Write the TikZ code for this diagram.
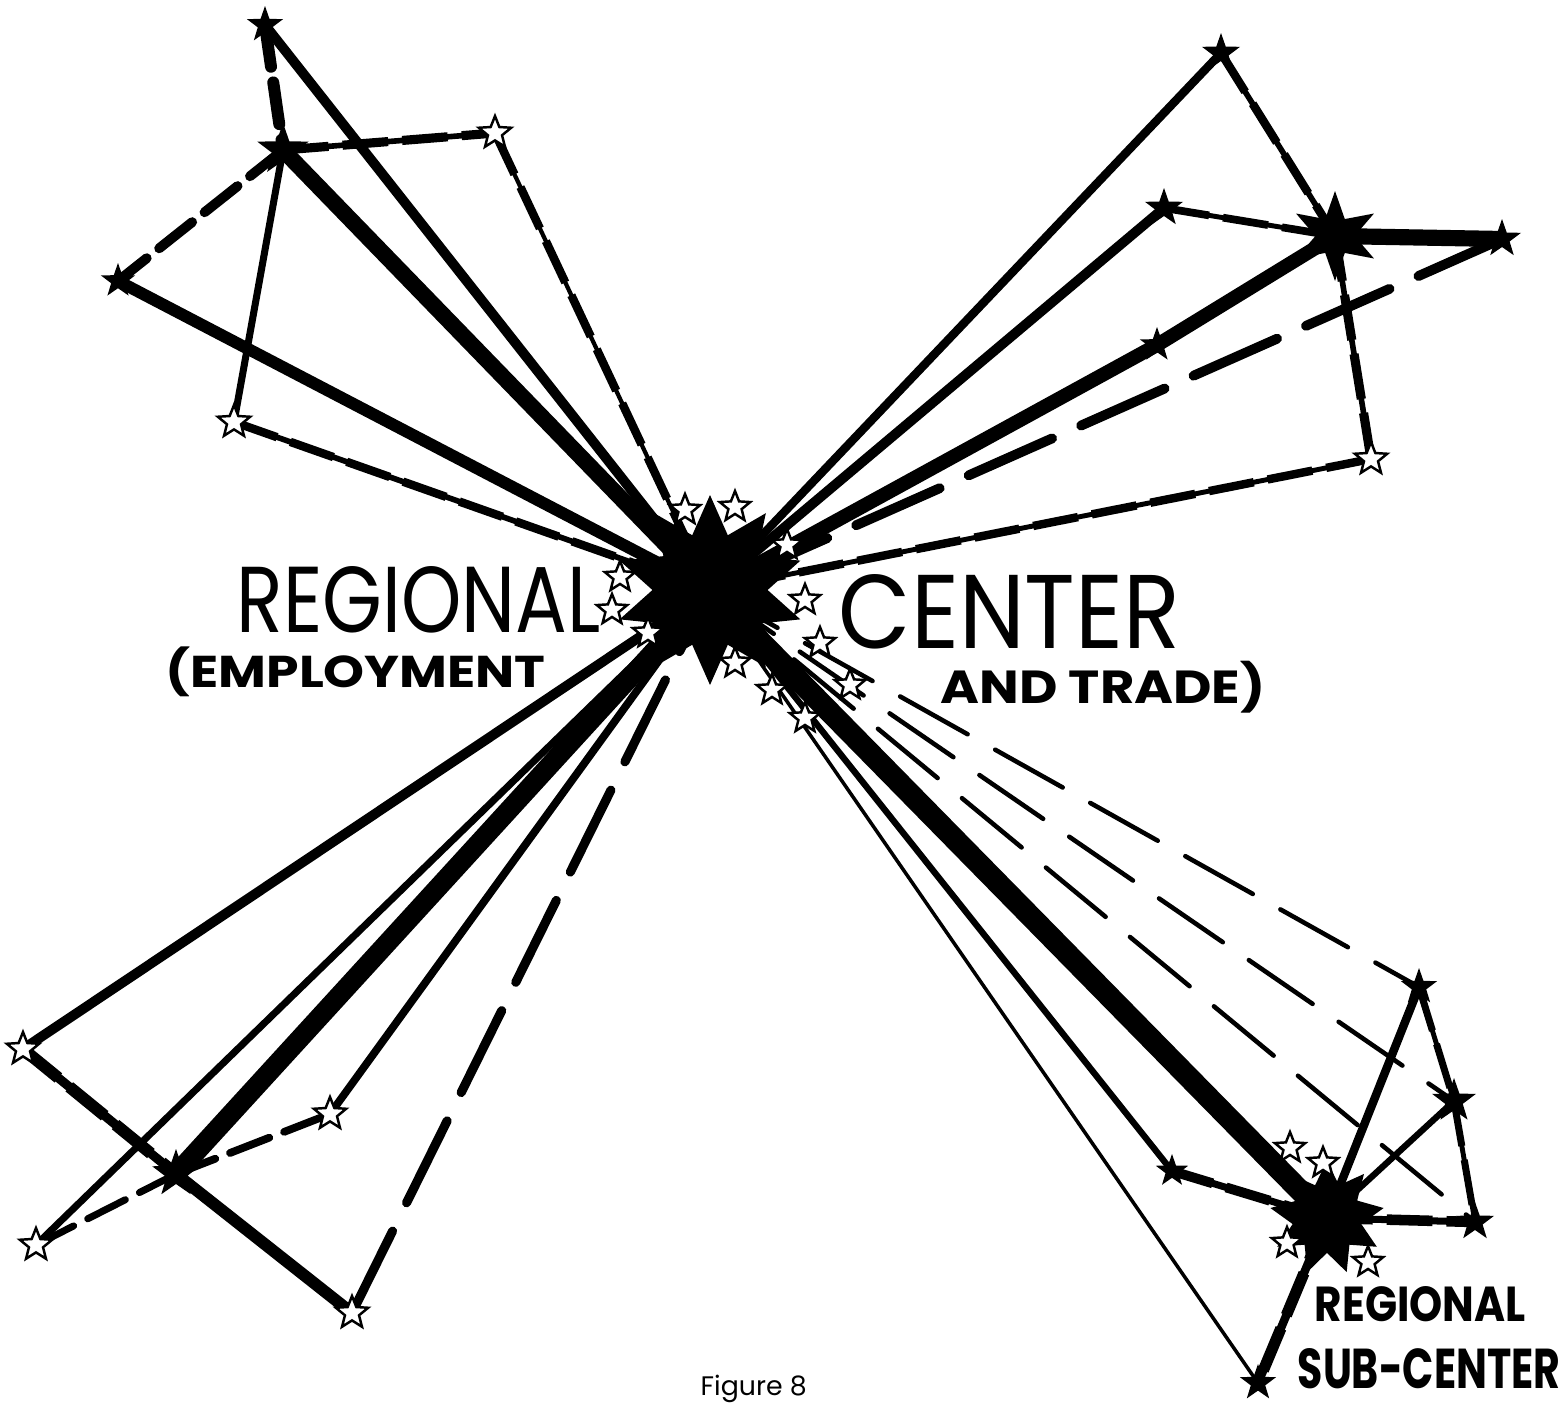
\documentclass[tikz,border=0pt]{standalone}
\usepackage{fontspec}
\setmainfont{Poppins}
\usepackage{graphicx}
\usetikzlibrary{shapes.geometric}
\pgfdeclarelayer{back}
\pgfdeclarelayer{links}
\pgfsetlayers{back,links,main}
\tikzset{
  hub/.style={star, star points=10, star point ratio=1.65, fill=black, inner sep=0pt, minimum size=19mm},
  bstar/.style={star, star points=5, star point ratio=2.5, fill=black, inner sep=0pt, minimum size=#1},
  bstar/.default=3.8mm,
  wstar/.style={star, star points=5, star point ratio=2.3, draw=black, fill=white, line width=0.7pt, inner sep=0pt, minimum size=3.4mm},
  link/.style={line width=#1},
  dashlink/.style={line width=#1, line cap=round, dash pattern=on 12pt off 4.5pt},
  longdash/.style={line width=#1, line cap=round, dash pattern=on 26pt off 9pt},
  mixlink/.style 2 args={line width=#1, dash pattern=on 13pt off 4pt, preaction={draw, solid, line width=#2}},
  lettering/.style={inner sep=0pt, anchor=south west}
}
\begin{document}
\begin{tikzpicture}[x=0.1mm, y=-0.1mm]
  \useasboundingbox (0,0) rectangle (1560,1404);
  \begin{pgfonlayer}{back}
    \fill[white] (0,0) rectangle (1560,1404);
  \end{pgfonlayer}
  \node[hub] (hub) at (710,590) {};
  \node[hub, star points=9, minimum size=11.5mm] (sub) at (1327,1218) {};
  \node[bstar] (tl1) at (265,25) {};
  \node[bstar=5.4mm] (tl2) at (283,150) {};
  \node[wstar] (tl3) at (495,133) {};
  \node[bstar=3.6mm] (tl4) at (118,281) {};
  \node[wstar] (tl5) at (234,422) {};
  \node[bstar=4mm] (tr1) at (1221,53) {};
  \node[bstar=4mm] (tr2) at (1164,208) {};
  \node[star, star points=6, star point ratio=2.3, fill=black, inner sep=0pt, minimum size=9mm] (tr3) at (1335,236) {};
  \node[bstar=4mm] (tr4) at (1502,239) {};
  \node[bstar=3.6mm] (tr5) at (1157,345) {};
  \node[wstar] (tr6) at (1371,459) {};
  \node[wstar] (bl1) at (23,1049) {};
  \node[bstar=5mm] (bl2) at (176,1174) {};
  \node[wstar] (bl3) at (330,1114) {};
  \node[wstar] (bl4) at (36,1245) {};
  \node[wstar] (bl5) at (352,1313) {};
  \node[bstar=3.8mm] (br1) at (1419,987) {};
  \node[bstar=4.6mm] (br2) at (1454,1101) {};
  \node[bstar=4mm] (br3) at (1475,1222) {};
  \node[bstar=3.4mm] (br4) at (1172,1171) {};
  \node[bstar=3.8mm] (br5) at (1258,1383) {};
  \foreach \x/\y [count=\i] in {685/510,735/507,787/545,620/577,612/610,648/633,805/600,820/643,735/663,772/690,850/685,805/718}
    \node[wstar, minimum size=3.2mm] (ring\i) at (\x,\y) {};
  \foreach \x/\y [count=\i] in {1290/1148,1323/1163,1287/1243,1368/1262}
    \node[wstar, minimum size=3.2mm] (subring\i) at (\x,\y) {};
  \begin{pgfonlayer}{links}
    \draw[dashlink=3.4pt] (tl1.center) -- (tl2.center);
    \draw[link=2.8pt] (tl1.center) -- (hub.center);
    \draw[link=4.6pt] (tl2.center) -- (hub.center);
    \draw[mixlink={2.6pt}{1.6pt}] (tl2.center) -- (tl3.center);
    \draw[dashlink=2.8pt] (tl2.center) -- (tl4.center);
    \draw[link=2pt] (tl2.center) -- (tl5.center);
    \draw[mixlink={2.4pt}{1.2pt}] (tl3.center) -- (hub.center);
    \draw[link=3.4pt] (tl4.center) -- (hub.center);
    \draw[mixlink={2.4pt}{1.6pt}] (tl5.center) -- (hub.center);
    \draw[link=2.4pt] (tr1.center) -- (hub.center);
    \draw[mixlink={2.4pt}{1.6pt}] (tr1.center) -- (tr3.center);
    \draw[link=2.8pt] (tr2.center) -- (hub.center);
    \draw[mixlink={2.2pt}{1.4pt}] (tr2.center) -- (tr3.center);
    \draw[link=4pt] (hub.center) -- (tr5.center) -- (tr3.center);
    \draw[link=4.6pt] (tr3.center) -- (tr4.center);
    \draw[longdash=2.8pt] (tr4.center) -- (hub.center);
    \draw[mixlink={2.6pt}{1.6pt}] (tr3.center) -- (tr6.center);
    \draw[mixlink={2.4pt}{1.4pt}] (tr6.center) -- (hub.center);
    \draw[link=2.8pt] (bl1.center) -- (hub.center);
    \draw[mixlink={3.4pt}{2.6pt}] (bl1.center) -- (bl2.center);
    \draw[link=3.4pt] (bl2.center) -- (bl5.center);
    \draw[link=2pt] (bl4.center) -- (hub.center);
    \draw[dashlink=2pt] (bl4.center) -- (bl2.center);
    \draw[link=5.6pt] (bl2.center) -- (hub.center);
    \draw[dashlink=2.2pt] (bl2.center) -- (bl3.center);
    \draw[link=2.2pt] (bl3.center) -- (hub.center);
    \draw[longdash=2.6pt] (bl5.center) -- (hub.center);
    \draw[link=6.2pt] (hub.center) -- (sub.center);
    \draw[link=1.8pt] (hub.center) -- (br4.center);
    \draw[link=1pt] (hub.center) -- (br5.center);
    \draw[longdash=1.3pt, dash pattern=on 22pt off 9pt] (hub.center) -- (br1.center);
    \draw[longdash=1.3pt, dash pattern=on 22pt off 9pt] (hub.center) -- (br2.center);
    \draw[longdash=1.3pt, dash pattern=on 22pt off 9pt] (hub.center) -- (br3.center);
    \draw[link=2.4pt] (sub.center) -- (br1.center);
    \draw[mixlink={2pt}{1.4pt}] (br1.center) -- (br2.center);
    \draw[mixlink={2pt}{1.4pt}] (br2.center) -- (br3.center);
    \draw[link=1.8pt] (sub.center) -- (br2.center);
    \draw[mixlink={3pt}{2pt}] (sub.center) -- (br3.center);
    \draw[mixlink={2.8pt}{2pt}] (sub.center) -- (br4.center);
    \draw[mixlink={3.2pt}{2.4pt}] (sub.center) -- (br5.center);
  \end{pgfonlayer}
  \node[lettering] (bigreg) at (236,634) {\resizebox{36.4mm}{6.6mm}{REGIONAL}};
  \node[lettering] (bigcen) at (838,650) {\resizebox{34.2mm}{7.4mm}{CENTER}};
  \node[lettering] (employ) at (165,698) {\resizebox*{38mm}{5mm}{\bfseries(EMPLOYMENT}};
  \node[lettering] (trade) at (940,714) {\resizebox*{32.5mm}{5.2mm}{\bfseries AND TRADE)}};
  \node[lettering] (subreg) at (1314,1323) {\resizebox{21.1mm}{3.5mm}{\bfseries REGIONAL}};
  \node[lettering] (subcen) at (1297,1390) {\resizebox{26.3mm}{4mm}{\bfseries SUB-CENTER}};
  \node[inner sep=0pt, anchor=base west] (caption) at (700,1395) {\resizebox{10.6mm}{!}{Figure 8}};
\end{tikzpicture}
\end{document}
